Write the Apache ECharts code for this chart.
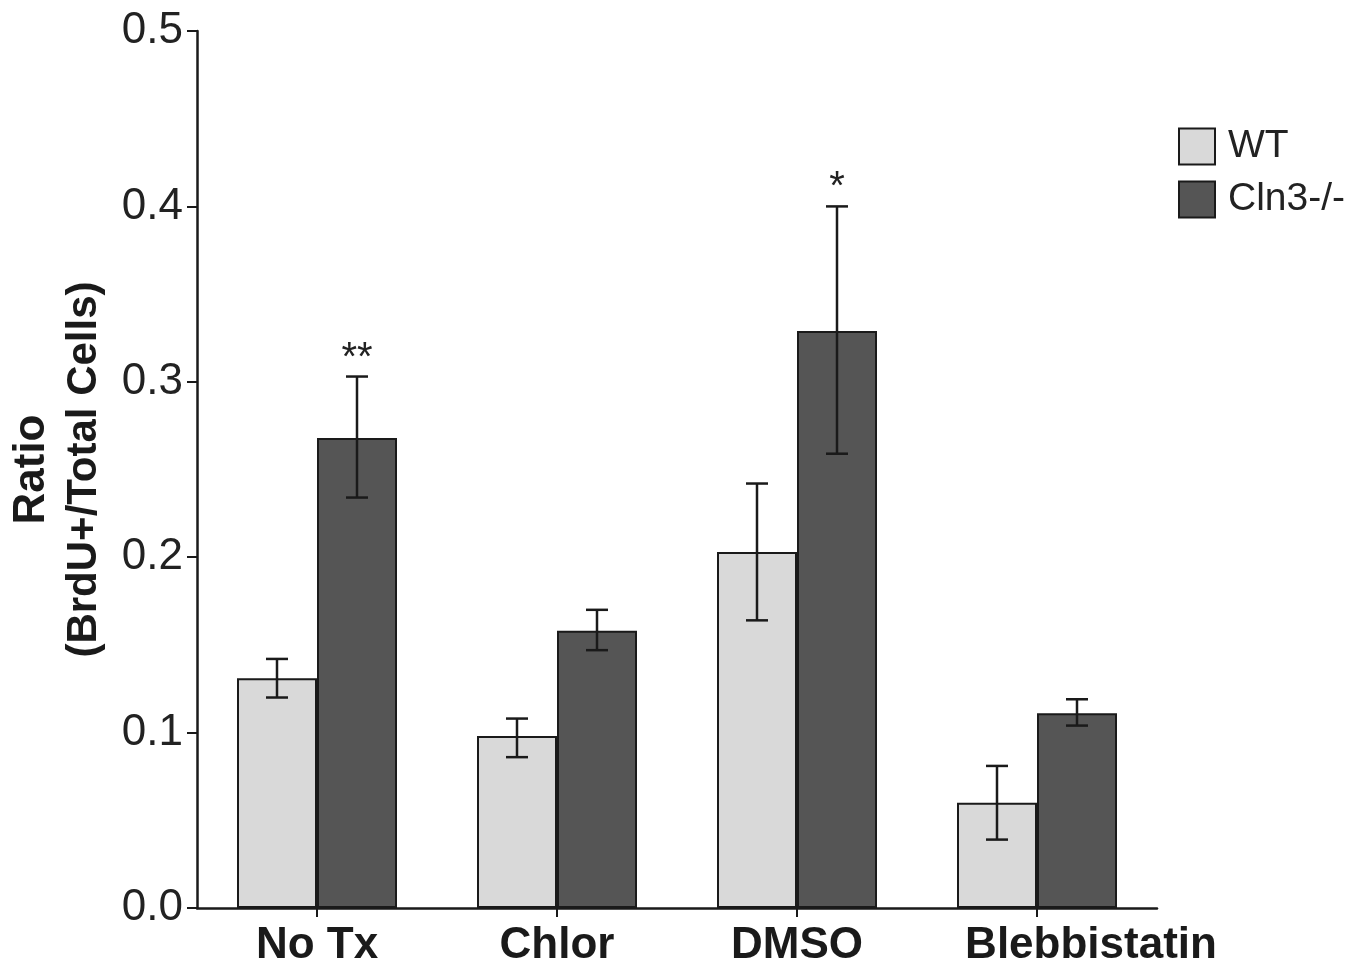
<!DOCTYPE html>
<html>
<head>
<meta charset="utf-8">
<script src="https://cdn.jsdelivr.net/npm/echarts@6/dist/echarts.min.js"></script>
<style>html,body{margin:0;padding:0;background:#fff}#c{width:1371px;height:968px}</style>
</head>
<body>
<div id="c"></div>
<script>
const categories = ['No Tx', 'Chlor', 'DMSO', 'Blebbistatin'];
const seriesNames = ['WT', 'Cln3-/-'];
const wtValues = [0.131, 0.098, 0.203, 0.060];
const wtErrHigh = [0.142, 0.108, 0.242, 0.081];
const wtErrLow = [0.120, 0.086, 0.164, 0.039];
const koValues = [0.268, 0.158, 0.329, 0.111];
const koErrHigh = [0.303, 0.170, 0.400, 0.119];
const koErrLow = [0.234, 0.147, 0.259, 0.104];
const koStars = ['**', '', '*', ''];

const BAR_W = 80;
const font = 'Liberation Sans, Arial, sans-serif';
// horizontal label shifts (px) to mimic the reference's label placement
const labelShift = [0, 0, 0, 54];

function errData(hi, lo, stars) {
  return categories.map((c, i) => [i, hi[i], lo[i], stars ? stars[i] : '']);
}
function errSeries(data, offset) {
  return {
    type: 'custom',
    silent: true,
    z: 10,
    data: data,
    encode: { x: 0, y: [1, 2] },
    renderItem: function (params, api) {
      const i = api.value(0);
      const hi = api.coord([i, api.value(1)]);
      const lo = api.coord([i, api.value(2)]);
      const x = hi[0] + offset;
      const cap = 11;
      const st = { stroke: '#1a1a1a', lineWidth: 2.5 };
      const children = [
        { type: 'line', shape: { x1: x, y1: hi[1], x2: x, y2: lo[1] }, style: st },
        { type: 'line', shape: { x1: x - cap, y1: hi[1], x2: x + cap, y2: hi[1] }, style: st },
        { type: 'line', shape: { x1: x - cap, y1: lo[1], x2: x + cap, y2: lo[1] }, style: st }
      ];
      const s = data[params.dataIndex][3];
      if (s) {
        children.push({ type: 'text', style: { text: s, x: x, y: hi[1] + 2, align: 'center', verticalAlign: 'bottom', font: '40px ' + font, fill: '#222' } });
      }
      return { type: 'group', children: children };
    }
  };
}

const xData = categories.map((c, i) => labelShift[i]
  ? { value: c, textStyle: { padding: [0, 0, 0, labelShift[i] * 2] } }
  : c);

const chart = echarts.init(document.getElementById('c'));
chart.setOption({
  animation: false,
  backgroundColor: '#fff',
  grid: { left: 197, right: 214, top: 31, bottom: 60, containLabel: false },
  legend: {
    orient: 'vertical', left: 1173, top: 122, itemWidth: 36, itemHeight: 36, itemGap: 14,
    icon: 'rect',
    data: seriesNames,
    textStyle: { fontSize: 39, fontFamily: font, color: '#222', padding: [0, 0, 0, 8] },
    itemStyle: { borderColor: '#1a1a1a', borderWidth: 2 }
  },
  xAxis: {
    type: 'category', data: xData, boundaryGap: true,
    axisLine: { lineStyle: { color: '#1a1a1a', width: 2.5 } },
    axisTick: { show: true, alignWithLabel: true, length: 9, lineStyle: { color: '#1a1a1a', width: 2 } },
    axisLabel: { interval: 0, hideOverlap: false, fontSize: 44, fontWeight: 'bold', fontFamily: font, color: '#1a1a1a', margin: 16 }
  },
  yAxis: {
    type: 'value', min: 0, max: 0.5, interval: 0.1,
    name: '{a|Ratio}\n{b|(BrdU+/Total Cells)}', nameLocation: 'middle', nameGap: 86, nameRotate: 90,
    nameTextStyle: {
      rich: {
        a: { fontSize: 44, fontWeight: 'bold', fontFamily: font, color: '#1a1a1a', lineHeight: 53 },
        b: { fontSize: 42, fontWeight: 'bold', fontFamily: font, color: '#1a1a1a', lineHeight: 53 }
      }
    },
    splitLine: { show: false },
    axisLine: { show: true, lineStyle: { color: '#1a1a1a', width: 2.5 } },
    axisTick: { show: true, length: 10, lineStyle: { color: '#1a1a1a', width: 2 } },
    axisLabel: { fontSize: 44, fontFamily: font, color: '#222', margin: 14, formatter: v => v.toFixed(1) }
  },
  series: [
    { name: seriesNames[0], type: 'bar', data: wtValues, barWidth: BAR_W, barGap: '0%',
      itemStyle: { color: '#d9d9d9', borderColor: '#1a1a1a', borderWidth: 2 } },
    { name: seriesNames[1], type: 'bar', data: koValues, barWidth: BAR_W, barGap: '0%',
      itemStyle: { color: '#555555', borderColor: '#1a1a1a', borderWidth: 2 } },
    errSeries(errData(wtErrHigh, wtErrLow), -BAR_W / 2),
    errSeries(errData(koErrHigh, koErrLow, koStars), BAR_W / 2)
  ]
});
</script>
</body>
</html>
